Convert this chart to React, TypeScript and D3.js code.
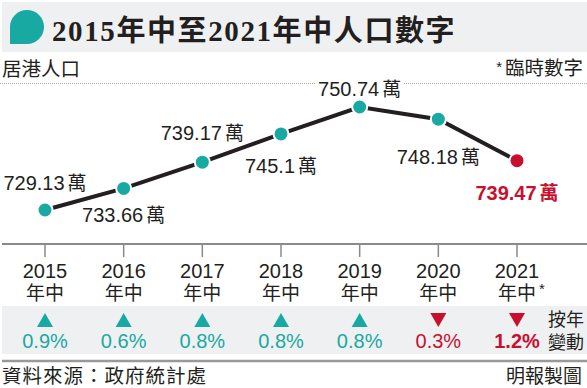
import React from 'react';
import * as d3 from 'd3';

const years = ['2015', '2016', '2017', '2018', '2019', '2020', '2021'];
const population = [729.13, 733.66, 739.17, 745.1, 750.74, 748.18, 739.47];
const popLabels = ['729.13', '733.66', '739.17', '745.1', '750.74', '748.18', '739.47'];
const changes = [0.9, 0.6, 0.8, 0.8, 0.8, -0.3, -1.2];
const provisional = [false, false, false, false, false, false, true];

const TEAL = '#19a9a3';
const RED = '#c8102e';
const INK = '#231f20';
const NUM = '"Liberation Sans", Arial, "Noto Sans CJK TC", sans-serif';
const CJK = '"Noto Sans CJK TC", "Liberation Sans", sans-serif';

export default function App() {
  const W = 587, H = 388;
  const x = d3.scalePoint<string>().domain(years).range([45, 517]);
  const ext = d3.extent(population) as [number, number];
  const y = d3.scaleLinear().domain(ext).range([210, 107]);
  const line = d3.line<number>().x((_, i) => x(years[i])!).y((d) => y(d));
  const labelDy = [-20, 34, -22, 39, -11, 45, 39];

  return (
    <svg width={W} height={H} style={{ position: 'absolute', left: 0, top: 0, background: '#fff' }}>
      <rect x={2} y={2} width={585} height={50} fill="#eff0f1" />
      <path d="M10,27 A17,17 0 1 1 27,44 L10,44 Z" fill={TEAL} />
      <text x={52} y={41} fontFamily={'"Liberation Serif", "Noto Sans CJK TC", serif'} fontWeight="bold" fontSize={29} fill={INK} letterSpacing={1.6}>
        2015年中至2021年中人口數字
      </text>
      <text x={2} y={76} fontFamily={CJK} fontSize={19.5} fill={INK}>居港人口</text>
      <text x={583} y={75} textAnchor="end" fontFamily={CJK} fontSize={19.5} fill={INK}>
        <tspan fontFamily={NUM} fontSize={15} dy={-3}>*</tspan>
        <tspan dx={3} dy={3}>臨時數字</tspan>
      </text>
      <line x1={0} x2={W} y1={83.5} y2={83.5} stroke="#aaa" strokeWidth={1} strokeDasharray="1,1" />

      <path d={line(population)!} fill="none" stroke={INK} strokeWidth={4} />
      {population.map((v, i) => {
        const last = i === population.length - 1;
        const cx = x(years[i])!;
        const cy = y(v);
        const ty = cy + labelDy[i];
        return (
          <g key={years[i]}>
            {i === 4 && <rect x={cx - 44} y={ty - 16} width={88} height={20} fill="#fff" />}
            <circle cx={cx} cy={cy} r={7.5} fill={last ? RED : TEAL} stroke="#fff" strokeWidth={2} />
            <text x={cx} y={ty} textAnchor="middle" fontFamily={NUM} fontSize={20}
              fontWeight={last ? 'bold' : 'normal'} fill={last ? RED : INK}>
              {popLabels[i]}
              <tspan dx={3} fontFamily={CJK} fontSize={19}>萬</tspan>
            </text>
          </g>
        );
      })}

      <line x1={2} x2={W} y1={244} y2={244} stroke="#8a8a8a" strokeWidth={2} />
      {years.map((yr, i) => {
        const cx = x(yr)!;
        return (
          <g key={'ax' + yr}>
            <line x1={cx} x2={cx} y1={244} y2={257} stroke="#8a8a8a" strokeWidth={1.5} />
            <text x={cx} y={278} textAnchor="middle" fontFamily={NUM} fontSize={20} fill={INK}>{yr}</text>
            <text x={cx} y={300} textAnchor="middle" fontFamily={CJK} fontSize={19} fill={INK}>年中</text>
            {provisional[i] && <text x={cx + 22} y={294} fontFamily={NUM} fontSize={15} fill={INK}>*</text>}
          </g>
        );
      })}

      <rect x={2} y={306} width={585} height={48} fill="#eff0f1" />
      {changes.map((c, i) => {
        const cx = x(years[i])!;
        const up = c >= 0;
        const col = up ? TEAL : RED;
        const tri = up
          ? `M${cx - 8},327 L${cx + 8},327 L${cx},313 Z`
          : `M${cx - 8},313 L${cx + 8},313 L${cx},327 Z`;
        return (
          <g key={'ch' + i}>
            <path d={tri} fill={col} />
            <text x={cx} y={348} textAnchor="middle" fontFamily={NUM} fontSize={20}
              fontWeight={i === changes.length - 1 ? 'bold' : 'normal'} fill={col}>
              {`${Math.abs(c).toFixed(1)}%`}
            </text>
          </g>
        );
      })}
      <text x={584} y={326} textAnchor="end" fontFamily={CJK} fontSize={18} fill={INK}>按年</text>
      <text x={584} y={349} textAnchor="end" fontFamily={CJK} fontSize={18} fill={INK}>變動</text>
      <line x1={2} x2={W} y1={361} y2={361} stroke="#999" strokeWidth={2.5} />

      <text x={2} y={383} fontFamily={CJK} fontSize={19.5} fill={INK} letterSpacing={1}>資料來源：政府統計處</text>
      <text x={582} y={383} textAnchor="end" fontFamily={CJK} fontSize={19} fill={INK}>明報製圖</text>
    </svg>
  );
}
